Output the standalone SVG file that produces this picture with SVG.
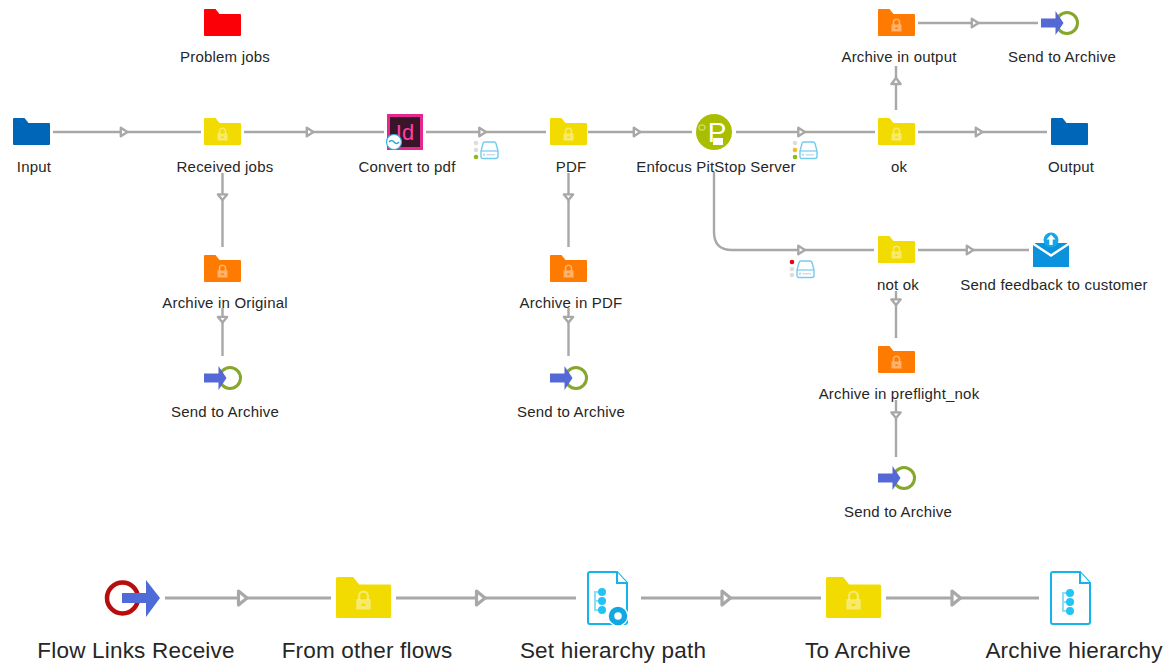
<svg xmlns="http://www.w3.org/2000/svg" width="1172" height="663" viewBox="0 0 1172 663">
<style>
text{font-family:"Liberation Sans",Arial,sans-serif;fill:#262626;text-anchor:middle}
.s{font-size:15px;letter-spacing:.2px}
.b{font-size:22.5px;letter-spacing:.2px}
.c{fill:none;stroke:#a8a8a8;stroke-width:2.4}
.c2{fill:none;stroke:#a8a8a8;stroke-width:3}
.ah{fill:#fff;stroke:#a8a8a8;stroke-width:2.4;stroke-linejoin:round}
.ah2{fill:#fff;stroke:#a8a8a8;stroke-width:3.2;stroke-linejoin:round}
</style>
<defs>
<path id="f" d="M0 1Q0 0 1 0H11.500L15.500 5H36Q37 5 37 6V26Q37 27 36 27H1Q0 27 0 26Z"/>
<g id="lock"><path d="M-3 0V-2.800A3 3 0 0 1 3 -2.800V0" fill="none" stroke-width="1.600" stroke="#fff" stroke-opacity=".42"/><path fill-rule="evenodd" d="M-5 -.5H5V6.500H-5ZM-1.200 2.500h2.400v1.600h-2.400Z" fill="#fff" fill-opacity=".42"/></g>
<g id="folder-y"><use href="#f" fill="#f1db00"/><use href="#lock" x="18.500" y="16"/></g>
<g id="folder-o"><use href="#f" fill="#ff7a00"/><use href="#lock" x="18.500" y="16"/></g>
<g id="arch"><circle cx="13" cy="0" r="10.500" fill="none" stroke="#86a62c" stroke-width="3"/><path d="M-13 -4.500H1.500V-12L9.500 0L1.500 12V4.500H-13Z" fill="#5569d6"/></g>
<g id="drive"><path d="M3.500 1H13Q14.500 1 15 2.500L17 10V15.500Q17 17.500 15 17.500H2Q0 17.500 0 15.500V10L2 2.500Q2.500 1 3.500 1Z" fill="#fff" stroke="#72cbf0" stroke-width="1.400"/><path d="M0 10H17" stroke="#72cbf0" stroke-width="1.200"/><path d="M5.500 13.800H14" stroke="#c5d8e0" stroke-width="1.300"/><circle cx="3" cy="13.800" r="1.200" fill="#c5d8e0"/></g>
<path id="ar" d="M-3.200 -4.300L3.400 0L-3.200 4.300Z" class="ah"/>
<path id="ar2" d="M-4 -7L4.500 0L-4 7Z" class="ah2"/>
<path id="ad" d="M-4.600 -2.600L0 3L4.600 -2.600Z" class="ah"/>
<path id="au" d="M-4.600 3L0 -3L4.600 3Z" class="ah"/>
<g id="doc"><path d="M-18 -26H9L19 -15V24Q19 26 17 26H-18Q-20 26 -20 24V-24Q-20 -26 -18 -26" fill="#fff" stroke="#12b4ea" stroke-width="2"/><path d="M9 -26V-15H19" fill="#fff" stroke="#12b4ea" stroke-width="2"/></g>
<g id="tree"><path d="M0 -9H-4V9H0M-4 0H0" fill="none" stroke="#8edcf6" stroke-width="2"/><circle cx="3" cy="-9" r="4" fill="#22c4f4"/><circle cx="3" cy="0" r="4" fill="#22c4f4"/><circle cx="3" cy="9" r="4" fill="#22c4f4"/></g>
</defs>

<g id="connectors">
<path class="c" d="M53 132H201M244 132H384M426 132H546M588 132H692M736 132H875M918 132H1047"/>
<path class="c" d="M222.500 173V247M222.500 308V356M568.500 173V247M568.500 308V356M896 110V66M918 23H1038M714 172V232Q714 250 732 250H874M918 250H1029M896 291V338M896 400V457"/>
<path class="c2" d="M165 598H331M396 598H576M641 598H821M886 598H1039"/>
<use href="#ar" x="124" y="132"/><use href="#ar" x="310" y="132"/><use href="#ar" x="482.500" y="132"/><use href="#ar" x="637" y="132"/><use href="#ar" x="801.500" y="132"/><use href="#ar" x="979" y="132"/><use href="#ar" x="975" y="23"/><use href="#ar" x="801.500" y="250"/><use href="#ar" x="970" y="250"/>
<use href="#ad" x="222.500" y="197"/><use href="#ad" x="222.500" y="319.500"/><use href="#ad" x="568.500" y="197"/><use href="#ad" x="568.500" y="319.500"/><use href="#au" x="896" y="81"/><use href="#ad" x="896" y="302"/><use href="#ad" x="896" y="415"/>
<use href="#ar2" x="242.500" y="598"/><use href="#ar2" x="480.500" y="598"/><use href="#ar2" x="726" y="598"/><use href="#ar2" x="956" y="598"/>
</g>

<g id="problem-jobs"><use href="#f" x="204" y="9" fill="#fb0007"/><text class="s" x="225" y="62">Problem jobs</text></g>
<g id="input"><use href="#f" x="13" y="118" fill="#0067b8"/><text class="s" x="34" y="172">Input</text></g>
<g id="received-jobs"><use href="#folder-y" x="204" y="118"/><text class="s" x="225" y="172">Received jobs</text></g>
<g id="convert"><rect x="387" y="114" width="36" height="36" fill="#e6278f"/><rect x="390" y="117" width="30" height="30" fill="#3a1429"/><text x="405" y="140" style="font-size:22px;fill:#ff3fa6">Id</text><circle cx="394" cy="142" r="7.500" fill="#fff" stroke="#2fb4e0" stroke-width="1.200"/><path d="M389 142Q391.500 139 394 142T399 142" fill="none" stroke="#2ba6d8" stroke-width="1.500"/><text class="s" x="407" y="172">Convert to pdf</text></g>
<g id="pdf"><use href="#folder-y" x="550" y="118"/><text class="s" x="571" y="172">PDF</text></g>
<g id="pitstop"><circle cx="714" cy="132" r="18" fill="#a9be00"/><text x="717" y="142" style="font-size:28px;fill:#fff">P</text><rect x="713" y="138" width="10" height="7" fill="#fff"/><rect x="699" y="125" width="6" height="5" rx="2" fill="none" stroke="#dfe8a0" stroke-width="1"/><text class="s" x="716" y="172">Enfocus PitStop Server</text></g>
<g id="ok"><use href="#folder-y" x="878" y="118"/><text class="s" x="899" y="172">ok</text></g>
<g id="output"><use href="#f" x="1051" y="118" fill="#0067b8"/><text class="s" x="1071" y="172">Output</text></g>
<g id="archive-output"><use href="#folder-o" x="878" y="9"/><text class="s" x="899" y="62">Archive in output</text></g>
<g id="send-output"><use href="#arch" x="1054" y="23"/><text class="s" x="1062" y="62">Send to Archive</text></g>
<g id="archive-original"><use href="#folder-o" x="204" y="255"/><text class="s" x="225" y="308">Archive in Original</text></g>
<g id="send-original"><use href="#arch" x="217" y="378"/><text class="s" x="225" y="417">Send to Archive</text></g>
<g id="archive-pdf"><use href="#folder-o" x="550" y="255"/><text class="s" x="571" y="308">Archive in PDF</text></g>
<g id="send-pdf"><use href="#arch" x="563" y="378"/><text class="s" x="571" y="417">Send to Archive</text></g>
<g id="not-ok"><use href="#folder-y" x="878" y="236"/><text class="s" x="898" y="290">not ok</text></g>
<g id="feedback"><rect x="1033" y="243" width="36" height="24" fill="#0a93dc"/><path d="M1032 243L1051 255.500L1070 243" fill="none" stroke="#fff" stroke-width="2.400"/><circle cx="1051" cy="240" r="7.500" fill="#14a6e6"/><path d="M1051 234.500L1055.500 239.500H1052.700V245H1049.300V239.500H1046.500Z" fill="#fff"/><text class="s" x="1054" y="290">Send feedback to customer</text></g>
<g id="archive-preflight"><use href="#folder-o" x="878" y="346"/><text class="s" x="899" y="399">Archive in preflight_nok</text></g>
<g id="send-preflight"><use href="#arch" x="891" y="478"/><text class="s" x="898" y="517">Send to Archive</text></g>

<g id="drive1"><circle cx="476" cy="143" r="2.300" fill="#ddd"/><circle cx="476" cy="150" r="2.300" fill="#ddd"/><circle cx="476" cy="157" r="2.300" fill="#8dbb11"/><use href="#drive" x="481" y="141"/></g>
<g id="drive2"><circle cx="795" cy="143" r="2.300" fill="#ddd"/><circle cx="795" cy="150" r="2.300" fill="#f3bd15"/><circle cx="795" cy="157" r="2.300" fill="#8dbb11"/><use href="#drive" x="800" y="141"/></g>
<g id="drive3"><circle cx="792" cy="262" r="2.300" fill="#e8000f"/><circle cx="792" cy="269" r="2.300" fill="#ddd"/><circle cx="792" cy="275" r="2.300" fill="#ddd"/><use href="#drive" x="797" y="260"/></g>

<g id="flow-links"><circle cx="122.500" cy="598" r="15.500" fill="none" stroke="#b80d0d" stroke-width="4.500"/><path d="M122 593H146V580L160 598L146 617V603H122Z" fill="#4f6bd8"/><text class="b" x="136" y="658">Flow Links Receive</text></g>
<g id="from-other"><use href="#f" transform="translate(336 577) scale(1.490 1.520)" fill="#f1db00"/><use href="#lock" transform="translate(363.500 600) scale(1.450)"/><text class="b" x="367" y="658">From other flows</text></g>
<g id="set-path"><use href="#doc" x="608" y="598"/><use href="#tree" x="599" y="601"/><circle cx="618" cy="616" r="10.500" fill="#fff"/><circle cx="618" cy="616" r="6.500" fill="none" stroke="#10a8e0" stroke-width="5.500"/><circle cx="618" cy="616" r="2" fill="#fff"/><text class="b" x="613" y="658">Set hierarchy path</text></g>
<g id="to-archive"><use href="#f" transform="translate(826 577) scale(1.490 1.520)" fill="#f1db00"/><use href="#lock" transform="translate(853.500 600) scale(1.450)"/><text class="b" x="858" y="658">To Archive</text></g>
<g id="archive-hierarchy"><use href="#doc" x="1071" y="598"/><use href="#tree" x="1067" y="602"/><text class="b" x="1074" y="658">Archive hierarchy</text></g>
</svg>
